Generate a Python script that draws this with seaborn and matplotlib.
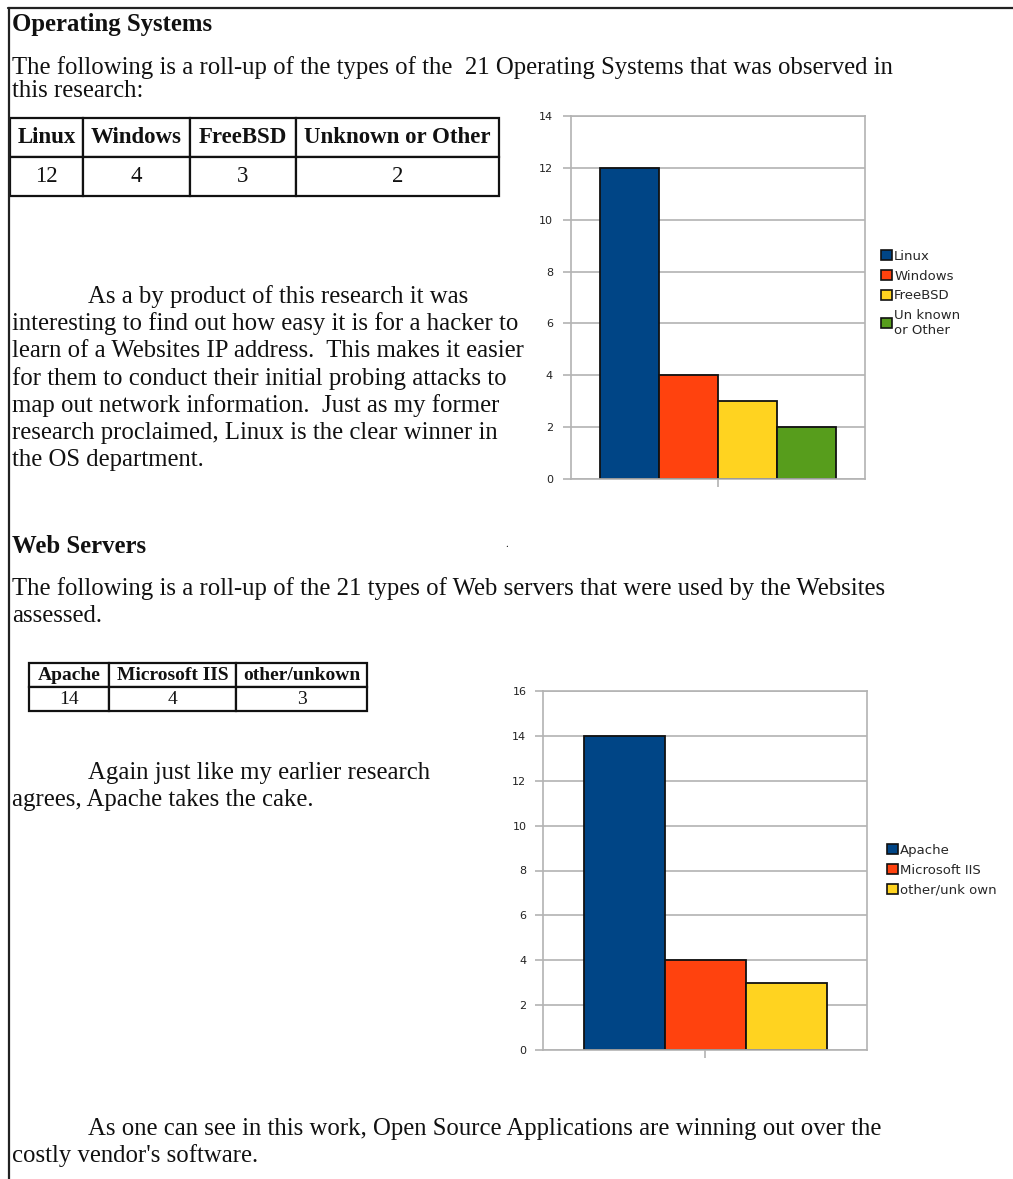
import matplotlib
matplotlib.use("Agg")
import matplotlib.pyplot as plt
import pandas as pd
import seaborn as sns
from matplotlib.lines import Line2D

# data
os_names = ["Linux", "Windows", "FreeBSD", "Unknown or Other"]
os_counts = [12, 4, 3, 2]
os_legend = ["Linux", "Windows", "FreeBSD", "Un known\nor Other"]
web_names = ["Apache", "Microsoft IIS", "other/unkown"]
web_counts = [14, 4, 3]
web_legend = ["Apache", "Microsoft IIS", "other/unk own"]
bar_colors = ["#004586", "#ff420e", "#ffd320", "#579d1c"]

W, H = 1013, 1179
sns.set_theme(style="white")
plt.rcParams["font.family"] = ["Liberation Serif", "DejaVu Serif"]

fig = plt.figure(figsize=(W / 100, H / 100), dpi=100)
fig.patch.set_facecolor("white")

BODY = 17.8


def box(l, t, r, b):
    return [l / W, 1 - b / H, (r - l) / W, (b - t) / H]


def put(x, y, s, size=BODY, **kw):
    fig.text(x / W, 1 - y / H, s, va="baseline", ha="left", color="#111111",
             fontsize=size, **kw)


# page frame (top and left edges)
fig.add_artist(Line2D([8 / W, 1], [1 - 8 / H, 1 - 8 / H], transform=fig.transFigure,
                      color="#222222", lw=1.6))
fig.add_artist(Line2D([9 / W, 9 / W], [0, 1 - 8 / H], transform=fig.transFigure,
                      color="#222222", lw=1.6))


def draw_table(rect, labels, values, widths, fs):
    ax = fig.add_axes(box(*rect))
    ax.axis("off")
    tb = ax.table(cellText=[[str(v) for v in values]], colLabels=labels,
                  cellLoc="center", bbox=[0, 0, 1, 1], colWidths=widths)
    tb.auto_set_font_size(False)
    for (r, c), cell in tb.get_celld().items():
        cell.set_linewidth(1.6)
        cell.set_edgecolor("#111111")
        cell.get_text().set_fontsize(fs)
        cell.get_text().set_color("#111111")
        if r == 0:
            cell.get_text().set_fontweight("bold")


def draw_chart(rect, names, counts, labels, ymax, width, leg_xy, pad):
    ax = fig.add_axes(box(*rect))
    df = pd.DataFrame({"group": [""] * len(names), "name": names, "count": counts})
    sns.barplot(data=df, x="group", y="count", hue="name", hue_order=names,
                palette=bar_colors[:len(names)], width=width, saturation=1,
                edgecolor="#111111", linewidth=1.3, ax=ax)
    ax.set_xlim(-0.5, 0.5)
    ax.set_ylim(0, ymax)
    ticks = list(range(0, ymax + 1, 2))
    ax.set_yticks(ticks)
    ax.set_yticklabels([str(t) for t in ticks], fontfamily="DejaVu Sans",
                       fontsize=8, color="#222222")
    ax.set_xticks([0])
    ax.set_xticklabels([])
    ax.set_xlabel("")
    ax.set_ylabel("")
    ax.yaxis.grid(True, color="#b3b3b3", lw=1.2)
    ax.set_axisbelow(True)
    for s in ax.spines.values():
        s.set_color("#b3b3b3")
        s.set_linewidth(1.2)
    ax.tick_params(axis="both", which="major", length=6, width=1.2,
                   color="#b3b3b3", direction="out", left=True, bottom=True)
    ax.tick_params(axis="y", pad=pad)

    leg = ax.get_legend()
    handles = leg.legend_handles
    leg.remove()
    for h in handles:
        h.set_edgecolor("#111111")
        h.set_linewidth(1.2)
    ax.legend(handles, labels, loc="upper left",
              bbox_to_anchor=(leg_xy[0] / W, 1 - leg_xy[1] / H),
              bbox_transform=fig.transFigure, frameon=False,
              prop={"family": "DejaVu Sans", "size": 9.5},
              handlelength=0.8, handleheight=0.8, handletextpad=0.2,
              labelspacing=0.5, borderaxespad=0, borderpad=0)


# --- Operating Systems section ---
put(12, 31, "Operating Systems", fontweight="bold")
put(12, 74, "The following is a roll-up of the types of the  21 Operating Systems that was observed in")
put(12, 97, "this research:")

draw_table((10, 118, 499, 196), os_names, os_counts, [73, 107, 106, 203], 16.5)

para1 = [
    (88, "As a by product of this research it was"),
    (12, "interesting to find out how easy it is for a hacker to"),
    (12, "learn of a Websites IP address.  This makes it easier"),
    (12, "for them to conduct their initial probing attacks to"),
    (12, "map out network information.  Just as my former"),
    (12, "research proclaimed, Linux is the clear winner in"),
    (12, "the OS department."),
]
for i, (x, line) in enumerate(para1):
    put(x, 303 + i * 27.2, line)

draw_chart((571, 116, 865, 479), os_names, os_counts, os_legend, 14, 0.8,
           (881, 250), 7)

# --- Web Servers section ---
put(12, 553, "Web Servers", fontweight="bold")
put(505, 547, ".", size=8)
put(12, 595, "The following is a roll-up of the 21 types of Web servers that were used by the Websites")
put(12, 622, "assessed.")

draw_table((29, 663, 367, 711), web_names, web_counts, [80, 127, 131], 14)

put(88, 779, "Again just like my earlier research")
put(12, 806, "agrees, Apache takes the cake.")

draw_chart((543, 691, 867, 1050), web_names, web_counts, web_legend, 16, 0.75,
           (887, 844), 6)

put(88, 1135, "As one can see in this work, Open Source Applications are winning out over the")
put(12, 1162, "costly vendor's software.")

fig.savefig("out.png", dpi=100, facecolor="white")
